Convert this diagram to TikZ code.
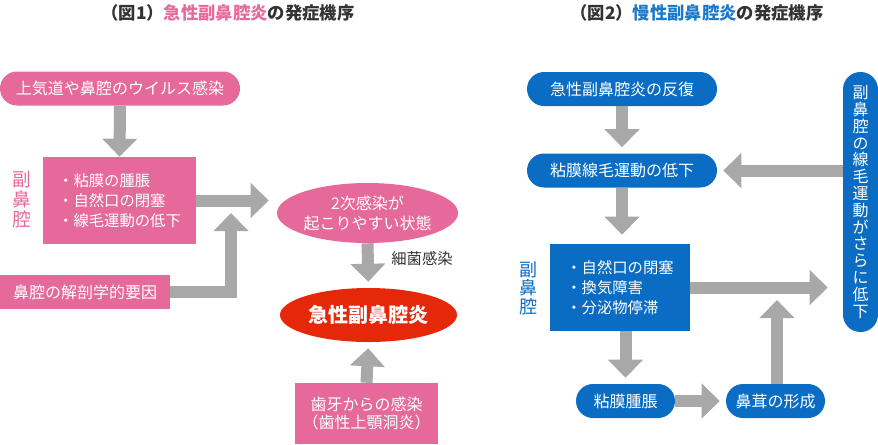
\documentclass[tikz,border=0pt]{standalone}
\usepackage{fontspec}
\setmainfont{Noto Sans CJK JP}
\usetikzlibrary{shapes.geometric,arrows.meta}
\definecolor{pinkbox}{HTML}{E5699A}
\definecolor{redell}{HTML}{E6280A}
\definecolor{bluebox}{HTML}{0A6DC3}
\definecolor{arrowgray}{HTML}{A8A8A8}
\definecolor{titlepink}{HTML}{E86A9C}
\definecolor{titleblue}{HTML}{1B79C9}
\definecolor{darktext}{HTML}{333333}

\begin{document}
\begin{tikzpicture}[x=0.75pt,y=-0.75pt,
        pill/.style={rounded corners=12.75pt, minimum height=25.5pt, inner sep=0pt, text=white, font=\fontsize{12}{14}\selectfont},
        box/.style={rectangle, inner sep=0pt, text=white, align=left, font=\fontsize{11.5}{15}\selectfont},
        oval/.style={ellipse, inner sep=0pt, text=white, align=center},
        sidelabel/.style={align=center, font=\fontsize{14}{15}\selectfont},
        heading/.style={text=darktext, font=\fontsize{13}{15}\selectfont\bfseries},
        garrow/.style={draw=arrowgray, line width=9pt, line join=miter, -{Triangle[width=25.5pt,length=13.5pt]}}]
    \useasboundingbox (0,0) rectangle (878,444);
    % titles
    \node[heading] (title1) at (228,13) {（図1）{\color{titlepink}急性副鼻腔炎}の発症機序};
    \node[heading] (title2) at (697,13) {（図2）{\color{titleblue}慢性副鼻腔炎}の発症機序};
    % left: acute
    \node[pill, fill=pinkbox, minimum width=180pt] (virus) at (120,88.5) {上気道や鼻腔のウイルス感染};
    \node[box, fill=pinkbox, minimum width=114.75pt, minimum height=65.25pt] (mucosa) at (119.5,200.5) {・粘膜の腫脹\\・自然口の閉塞\\・線毛運動の低下};
    \node[sidelabel, text=pinkbox] (sinus1) at (22,200) {副\\鼻\\腔};
    \node[box, fill=pinkbox, align=center, minimum width=127.5pt, minimum height=25.5pt, font=\fontsize{12}{14}\selectfont] (anat) at (85,292) {鼻腔の解剖学的要因};
    \node[oval, fill=pinkbox, minimum width=131.25pt, minimum height=45pt, font=\fontsize{12}{15}\selectfont] (infect2) at (367.5,213) {2次感染が\\起こりやすい状態};
    \node[oval, fill=redell, minimum width=132.75pt, minimum height=40.5pt, font=\fontsize{15}{17}\selectfont\bfseries] (acute) at (368.5,315) {急性副鼻腔炎};
    \node[box, fill=pinkbox, align=center, minimum width=107.25pt, minimum height=45.75pt, font=\fontsize{12}{13.5}\selectfont] (dental) at (366.5,413.5) {歯牙からの感染\\（歯性上顎洞炎）};
    \node[text=darktext, font=\fontsize{11.5}{14}\selectfont] (bact) at (422,259) {細菌感染};
    \coordinate (join) at (231,213);
    \draw[garrow] (virus.south) -- (mucosa.north);
    \draw[garrow, shorten >=6pt] (mucosa.east) -- (mucosa.east -| infect2.west);
    \draw[garrow] (anat.east) -| (join);
    \draw[garrow, shorten >=4.5pt] (infect2.south) -- (acute.north);
    \draw[garrow, shorten >=4.5pt] (dental.north) -- (acute.south);
    % right: chronic
    \node[pill, fill=bluebox, minimum width=142.5pt] (repeat) at (622,89) {急性副鼻腔炎の反復};
    \node[pill, fill=bluebox, minimum width=142.5pt] (decline) at (622,170.5) {粘膜線毛運動の低下};
    \node[pill, fill=bluebox, rounded corners=13pt, minimum width=26.25pt, minimum height=195pt, align=center, font=\fontsize{12}{12.6}\selectfont] (vpill) at (860.5,202) {副\\鼻\\腔\\の\\線\\毛\\運\\動\\が\\さ\\ら\\に\\低\\下};
    \node[box, fill=bluebox, minimum width=105pt, minimum height=65.25pt] (sinus2) at (620,287.5) {・自然口の閉塞\\・換気障害\\・分泌物停滞};
    \node[sidelabel, text=bluebox, font=\fontsize{13.5}{14}\selectfont] (sinuslbl) at (528,288) {副\\鼻\\腔};
    \node[pill, fill=bluebox, minimum width=74.25pt] (swelling) at (625.5,401) {粘膜腫脹};
    \node[pill, fill=bluebox, minimum width=74.25pt] (polyp) at (775.5,401) {鼻茸の形成};
    \coordinate (merge) at (777,300);
    \draw[garrow, shorten >=4.5pt] (repeat.south) -- (decline.north);
    \draw[garrow, shorten >=6.75pt] (decline.south) -- (decline.south |- sinus2.north);
    \draw[garrow, shorten >=4.5pt] (decline -| vpill.west) -- (decline.east);
    \draw[garrow, shorten >=11.25pt] (sinus2.east) -- (sinus2.east -| vpill.west);
    \draw[garrow, shorten >=4.5pt] (swelling.north |- sinus2.south) -- (swelling.north);
    \draw[garrow, shorten >=4.5pt] (swelling.east) -- (polyp.west);
    \draw[garrow] (polyp.north -| merge) -- (merge);
\end{tikzpicture}
\end{document}
